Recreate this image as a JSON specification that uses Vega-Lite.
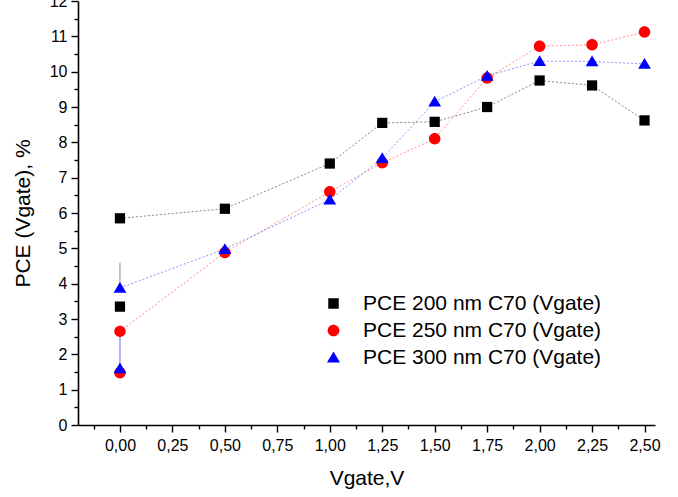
{
  "$schema": "https://vega.github.io/schema/vega-lite/v6.json",
  "width": 577,
  "height": 424,
  "autosize": "none",
  "padding": {"left": 78, "top": 1, "right": 23, "bottom": 72},
  "background": "white",
  "config": {"view": {"stroke": null}, "font": "Liberation Sans"},
  "datasets": {
    "pts": [
      {"series": "PCE 200 nm C70 (Vgate)", "x": 0, "y": 5.85, "main": true},
      {"series": "PCE 200 nm C70 (Vgate)", "x": 0.5, "y": 6.12, "main": true},
      {"series": "PCE 200 nm C70 (Vgate)", "x": 1.0, "y": 7.4, "main": true},
      {"series": "PCE 200 nm C70 (Vgate)", "x": 1.25, "y": 8.55, "main": true},
      {"series": "PCE 200 nm C70 (Vgate)", "x": 1.5, "y": 8.58, "main": true},
      {"series": "PCE 200 nm C70 (Vgate)", "x": 1.75, "y": 9.0, "main": true},
      {"series": "PCE 200 nm C70 (Vgate)", "x": 2.0, "y": 9.75, "main": true},
      {"series": "PCE 200 nm C70 (Vgate)", "x": 2.25, "y": 9.61, "main": true},
      {"series": "PCE 200 nm C70 (Vgate)", "x": 2.5, "y": 8.62, "main": true},
      {"series": "PCE 200 nm C70 (Vgate)", "x": 0, "y": 3.35, "main": false},
      {"series": "PCE 250 nm C70 (Vgate)", "x": 0, "y": 2.65, "main": true},
      {"series": "PCE 250 nm C70 (Vgate)", "x": 0.5, "y": 4.88, "main": true},
      {"series": "PCE 250 nm C70 (Vgate)", "x": 1.0, "y": 6.6, "main": true},
      {"series": "PCE 250 nm C70 (Vgate)", "x": 1.25, "y": 7.42, "main": true},
      {"series": "PCE 250 nm C70 (Vgate)", "x": 1.5, "y": 8.1, "main": true},
      {"series": "PCE 250 nm C70 (Vgate)", "x": 1.75, "y": 9.82, "main": true},
      {"series": "PCE 250 nm C70 (Vgate)", "x": 2.0, "y": 10.72, "main": true},
      {"series": "PCE 250 nm C70 (Vgate)", "x": 2.25, "y": 10.76, "main": true},
      {"series": "PCE 250 nm C70 (Vgate)", "x": 2.5, "y": 11.12, "main": true},
      {"series": "PCE 250 nm C70 (Vgate)", "x": 0, "y": 1.48, "main": false},
      {"series": "PCE 300 nm C70 (Vgate)", "x": 0, "y": 3.88, "main": true},
      {"series": "PCE 300 nm C70 (Vgate)", "x": 0.5, "y": 4.98, "main": true},
      {"series": "PCE 300 nm C70 (Vgate)", "x": 1.0, "y": 6.38, "main": true},
      {"series": "PCE 300 nm C70 (Vgate)", "x": 1.25, "y": 7.55, "main": true},
      {"series": "PCE 300 nm C70 (Vgate)", "x": 1.5, "y": 9.15, "main": true},
      {"series": "PCE 300 nm C70 (Vgate)", "x": 1.75, "y": 9.88, "main": true},
      {"series": "PCE 300 nm C70 (Vgate)", "x": 2.0, "y": 10.3, "main": true},
      {"series": "PCE 300 nm C70 (Vgate)", "x": 2.25, "y": 10.29, "main": true},
      {"series": "PCE 300 nm C70 (Vgate)", "x": 2.5, "y": 10.22, "main": true},
      {"series": "PCE 300 nm C70 (Vgate)", "x": 0, "y": 1.6, "main": false}
    ],
    "err": [
      {"series": "PCE 200 nm C70 (Vgate)", "x": 0, "y": 3.88, "y2": 4.6},
      {"series": "PCE 300 nm C70 (Vgate)", "x": 0, "y": 1.6, "y2": 2.6}
    ]
  },
  "encoding": {
    "x": {
      "field": "x", "type": "quantitative",
      "scale": {"domain": [-0.2, 2.55], "nice": false, "zero": false},
      "axis": {
        "title": "Vgate,V",
        "values": [-0.125, 0, 0.125, 0.25, 0.375, 0.5, 0.625, 0.75, 0.875, 1, 1.125, 1.25, 1.375, 1.5, 1.625, 1.75, 1.875, 2, 2.125, 2.25, 2.375, 2.5],
        "labelExpr": "abs(datum.value*4 - round(datum.value*4)) < 0.001 ? replace(format(datum.value, '.2f'), '.', ',') : ''",
        "tickSize": {"condition": {"test": "abs(datum.value*4 - round(datum.value*4)) < 0.001", "value": 7}, "value": 4},
        "grid": false,
        "labelFlush": false,
        "labelOverlap": false,
        "labelFontSize": 16,
        "labelColor": "#000000",
        "labelPadding": 5,
        "domainColor": "#000000",
        "domainWidth": 1.6,
        "tickColor": "#000000",
        "tickWidth": 1.4,
        "titleFontSize": 21,
        "titleFontWeight": "normal",
        "titleColor": "#000000",
        "titlePadding": 14
      }
    },
    "y": {
      "field": "y", "type": "quantitative",
      "scale": {"domain": [0, 12], "nice": false, "zero": false},
      "axis": {
        "title": "PCE (Vgate), %",
        "values": [0, 0.5, 1, 1.5, 2, 2.5, 3, 3.5, 4, 4.5, 5, 5.5, 6, 6.5, 7, 7.5, 8, 8.5, 9, 9.5, 10, 10.5, 11, 11.5, 12],
        "labelExpr": "datum.value % 1 === 0 ? format(datum.value, 'd') : ''",
        "tickSize": {"condition": {"test": "datum.value % 1 === 0", "value": 7}, "value": 4},
        "grid": false,
        "labelFlush": false,
        "labelOverlap": false,
        "labelFontSize": 16,
        "labelColor": "#000000",
        "labelPadding": 4,
        "domainColor": "#000000",
        "domainWidth": 1.6,
        "tickColor": "#000000",
        "tickWidth": 1.4,
        "titleFontSize": 21,
        "titleFontWeight": "normal",
        "titleColor": "#000000",
        "titlePadding": 16
      }
    }
  },
  "layer": [
    {
      "data": {"name": "err"},
      "transform": [{"filter": "datum.series === 'PCE 200 nm C70 (Vgate)'"}],
      "mark": {"type": "rule", "strokeWidth": 1.2, "color": "#a0a0a0"},
      "encoding": {"y2": {"field": "y2"}}
    },
    {
      "data": {"name": "err"},
      "transform": [{"filter": "datum.series === 'PCE 300 nm C70 (Vgate)'"}],
      "mark": {"type": "rule", "strokeWidth": 1.2, "color": "#8080ff"},
      "encoding": {"y2": {"field": "y2"}}
    },
    {
      "data": {"name": "pts"},
      "transform": [{"filter": "datum.main && datum.series === 'PCE 200 nm C70 (Vgate)'"}],
      "mark": {"type": "line", "strokeWidth": 1, "strokeDash": [2, 2], "color": "#888888"},
      "encoding": {}
    },
    {
      "data": {"name": "pts"},
      "transform": [{"filter": "datum.main && datum.series === 'PCE 250 nm C70 (Vgate)'"}],
      "mark": {"type": "line", "strokeWidth": 1, "strokeDash": [2, 2], "color": "#ff9090"},
      "encoding": {}
    },
    {
      "data": {"name": "pts"},
      "transform": [{"filter": "datum.main && datum.series === 'PCE 300 nm C70 (Vgate)'"}],
      "mark": {"type": "line", "strokeWidth": 1, "strokeDash": [2, 2], "color": "#9090ff"},
      "encoding": {}
    },
    {
      "data": {"name": "pts"},
      "mark": {"type": "point", "filled": true, "opacity": 1, "size": 105, "strokeWidth": 0},
      "encoding": {
        "color": {
          "field": "series", "type": "nominal",
          "scale": {"domain": ["PCE 200 nm C70 (Vgate)", "PCE 250 nm C70 (Vgate)", "PCE 300 nm C70 (Vgate)"], "range": ["#000000", "#ff0000", "#0000ff"]},
          "legend": {
            "title": null, "orient": "none", "legendX": 245, "legendY": 292,
            "labelFontSize": 21, "labelColor": "#000000", "symbolSize": 110,
            "rowPadding": 5, "labelOffset": 19, "padding": 0, "labelLimit": 400,
            "symbolStrokeWidth": 0
          }
        },
        "shape": {
          "field": "series", "type": "nominal",
          "scale": {"domain": ["PCE 200 nm C70 (Vgate)", "PCE 250 nm C70 (Vgate)", "PCE 300 nm C70 (Vgate)"], "range": ["square", "M-1.12,0A1.12,1.12,0,1,1,1.12,0A1.12,1.12,0,1,1,-1.12,0Z", "M0,-1.15L1.25,0.95L-1.25,0.95Z"]},
          "legend": {
            "title": null, "orient": "none", "legendX": 245, "legendY": 292,
            "labelFontSize": 21, "labelColor": "#000000", "symbolSize": 110,
            "rowPadding": 5, "labelOffset": 19, "padding": 0, "labelLimit": 400,
            "symbolStrokeWidth": 0
          }
        }
      }
    }
  ]
}
